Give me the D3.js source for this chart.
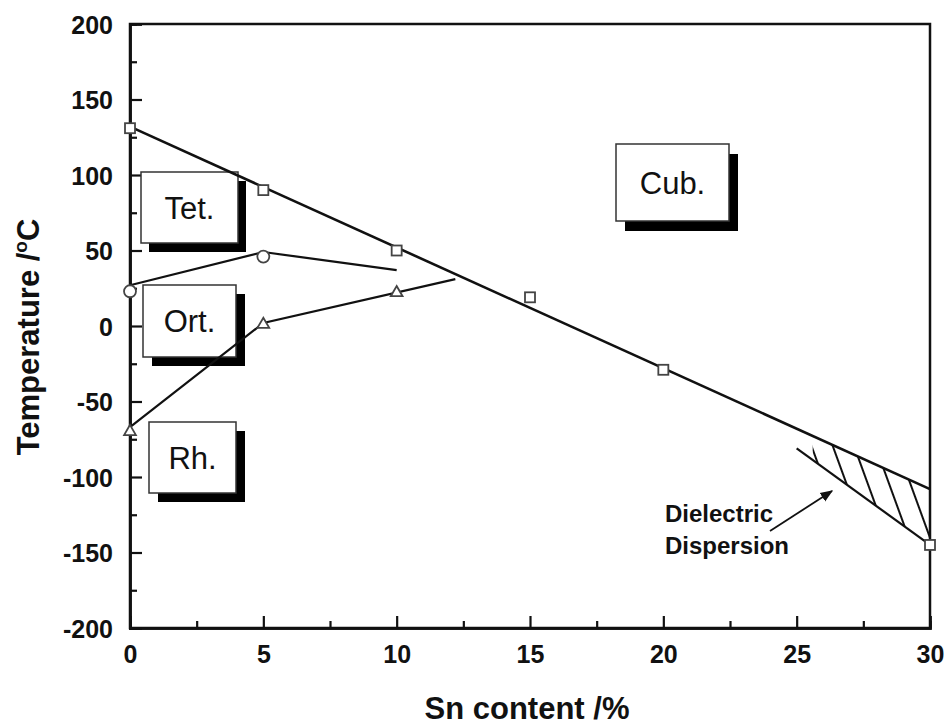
<!DOCTYPE html>
<html>
<head>
<meta charset="utf-8">
<script src="https://cdn.jsdelivr.net/npm/d3@7"></script>
<style>
  html, body { margin: 0; padding: 0; background: #fff; }
  svg { display: block; }
  text { font-family: "Liberation Sans", Arial, sans-serif; }
</style>
</head>
<body>
<svg id="chart" width="947" height="727"></svg>
<script>
// Sn content (%) and transition temperatures (°C)
const cubSn = [0, 5, 10, 15, 20, 30];
const cubT = [131, 90, 50, 19, -29, -145];
const cubFitSn = [0, 30];
const cubFitT = [132, -108];

const tetSn = [0, 5];
const tetT = [23, 46];
const tetLineSn = [0, 5, 10];
const tetLineT = [27, 49, 37];

const rhSn = [0, 5, 10];
const rhT = [-70, 1, 22];
const rhLineSn = [0, 5, 12.2];
const rhLineT = [-67, 2, 31];

const dispSn = [25, 30];
const dispT = [-81, -145];

const xTicks = [0, 5, 10, 15, 20, 25, 30];
const yTicks = [-200, -150, -100, -50, 0, 50, 100, 150, 200];
const phaseNames = ["Tet.", "Ort.", "Rh.", "Cub."];

const svg = d3.select("#chart");
const L = 130, R = 930, T = 24, B = 628;
const x = d3.scaleLinear().domain([0, 30]).range([L, R]);
const y = d3.scaleLinear().domain([-200, 200]).range([B, T]);

// frame
svg.append("rect").attr("x", L).attr("y", T).attr("width", R - L).attr("height", B - T)
  .attr("fill", "none").attr("stroke", "#111").attr("stroke-width", 2.5);

// axes with inward ticks
const xMinor = d3.range(0, 30.01, 2.5).filter(v => v % 5 !== 0);
const yMinor = d3.range(-200, 200.01, 25).filter(v => v % 50 !== 0);
const plain = d => String(d);

const gx = svg.append("g").attr("transform", `translate(0,${B})`);
gx.call(d3.axisBottom(x).tickValues(xTicks).tickSize(-12).tickPadding(17).tickFormat(plain));
const gxm = svg.append("g").attr("transform", `translate(0,${B})`);
gxm.call(d3.axisBottom(x).tickValues(xMinor).tickSize(-7).tickFormat(""));

const gy = svg.append("g").attr("transform", `translate(${L},0)`);
gy.call(d3.axisLeft(y).tickValues(yTicks).tickSize(-12).tickPadding(17).tickFormat(plain));
const gym = svg.append("g").attr("transform", `translate(${L},0)`);
gym.call(d3.axisLeft(y).tickValues(yMinor).tickSize(-7).tickFormat(""));

svg.selectAll(".domain").attr("stroke", "#111").attr("stroke-width", 2.5);
svg.selectAll(".tick line").attr("stroke", "#111").attr("stroke-width", 2.2);
svg.selectAll(".tick text").attr("font-size", 25).attr("font-weight", "bold")
  .attr("font-family", "Liberation Sans, Arial, sans-serif").attr("fill", "#111");
gy.selectAll(".tick text").attr("dy", "0.36em");

// axis titles
svg.append("text").attr("x", 527).attr("y", 719).attr("text-anchor", "middle")
  .attr("font-size", 31).attr("font-weight", "bold").attr("fill", "#111")
  .text("Sn content /%");

const yt = svg.append("text").attr("transform", "translate(39,337) rotate(-90)")
  .attr("text-anchor", "middle").attr("font-size", 31).attr("font-weight", "bold").attr("fill", "#111");
yt.append("tspan").text("Temperature /");
yt.append("tspan").attr("font-size", 19).attr("dy", -12).text("o");
yt.append("tspan").attr("dy", 12).text("C");

// phase boxes with drop shadow
const boxLayout = {
  "Tet.": { x: 141, y: 172, w: 97, h: 71, dx: 8, dy: 9 },
  "Ort.": { x: 143, y: 285, w: 93, h: 72, dx: 9, dy: 9 },
  "Rh.":  { x: 149, y: 422, w: 87, h: 71, dx: 9, dy: 9 },
  "Cub.": { x: 616, y: 144, w: 113, h: 77, dx: 9, dy: 10 }
};
const boxes = svg.append("g");
phaseNames.forEach(name => {
  const b = boxLayout[name];
  boxes.append("rect").attr("x", b.x + b.dx).attr("y", b.y + b.dy).attr("width", b.w).attr("height", b.h)
    .attr("fill", "#000");
  boxes.append("rect").attr("x", b.x).attr("y", b.y).attr("width", b.w).attr("height", b.h)
    .attr("fill", "#fff").attr("stroke", "#333").attr("stroke-width", 1.5);
  boxes.append("text").attr("x", b.x + b.w / 2).attr("y", b.y + b.h / 2 + 11)
    .attr("text-anchor", "middle").attr("font-size", 31).attr("fill", "#111").text(name);
});

// lines
const line = d3.line().x(d => x(d[0])).y(d => y(d[1]));
const zip = (a, b) => a.map((v, i) => [v, b[i]]);

// hatched dielectric dispersion wedge
const defs = svg.append("defs");
const pat = defs.append("pattern").attr("id", "hatch").attr("patternUnits", "userSpaceOnUse")
  .attr("width", 20).attr("height", 20).attr("patternTransform", "rotate(-20)");
pat.append("line").attr("x1", 10).attr("y1", 0).attr("x2", 10).attr("y2", 20)
  .attr("stroke", "#111").attr("stroke-width", 2);
const fitAt = s => cubFitT[0] + (cubFitT[1] - cubFitT[0]) * (s - cubFitSn[0]) / (cubFitSn[1] - cubFitSn[0]);
const dispAt = s => dispT[0] + (dispT[1] - dispT[0]) * (s - dispSn[0]) / (dispSn[1] - dispSn[0]);
const s0 = 25.6;
const wedge = [[s0, fitAt(s0)], [30, fitAt(30)], [30, dispAt(30)], [s0, dispAt(s0)]];
svg.append("path").attr("d", line(wedge) + "Z").attr("fill", "url(#hatch)");

svg.append("path").attr("d", line(zip(cubFitSn, cubFitT))).attr("fill", "none")
  .attr("stroke", "#111").attr("stroke-width", 2.6);
svg.append("path").attr("d", line(zip(tetLineSn, tetLineT))).attr("fill", "none")
  .attr("stroke", "#111").attr("stroke-width", 2.2);
svg.append("path").attr("d", line(zip(rhLineSn, rhLineT))).attr("fill", "none")
  .attr("stroke", "#111").attr("stroke-width", 2.2);
svg.append("path").attr("d", line(zip(dispSn, dispT))).attr("fill", "none")
  .attr("stroke", "#111").attr("stroke-width", 2.2);

// markers
const mk = svg.append("g").attr("fill", "#fff").attr("stroke", "#444").attr("stroke-width", 1.8);
mk.selectAll(".sq").data(zip(cubSn, cubT)).join("rect")
  .attr("x", d => x(d[0]) - 5).attr("y", d => y(d[1]) - 5).attr("width", 10).attr("height", 10);
mk.selectAll(".ci").data(zip(tetSn, tetT)).join("circle")
  .attr("cx", d => x(d[0])).attr("cy", d => y(d[1])).attr("r", 6);
const tri = d3.symbol().type(d3.symbolTriangle).size(60);
mk.selectAll(".tr").data(zip(rhSn, rhT)).join("path")
  .attr("d", tri).attr("transform", d => `translate(${x(d[0])},${y(d[1])})`);

// annotation
const ann = svg.append("g");
ann.append("text").attr("x", 665).attr("y", 522).attr("font-size", 24).attr("font-weight", "bold")
  .attr("fill", "#111").text("Dielectric");
ann.append("text").attr("x", 665).attr("y", 554).attr("font-size", 24).attr("font-weight", "bold")
  .attr("fill", "#111").text("Dispersion");
defs.append("marker").attr("id", "arrow").attr("viewBox", "0 0 10 10").attr("refX", 9).attr("refY", 5)
  .attr("markerWidth", 7).attr("markerHeight", 7).attr("orient", "auto")
  .append("path").attr("d", "M0,1 L10,5 L0,9 Z").attr("fill", "#111");
ann.append("line").attr("x1", 770).attr("y1", 531).attr("x2", 832).attr("y2", 491)
  .attr("stroke", "#111").attr("stroke-width", 1.8).attr("marker-end", "url(#arrow)");
</script>
</body>
</html>
